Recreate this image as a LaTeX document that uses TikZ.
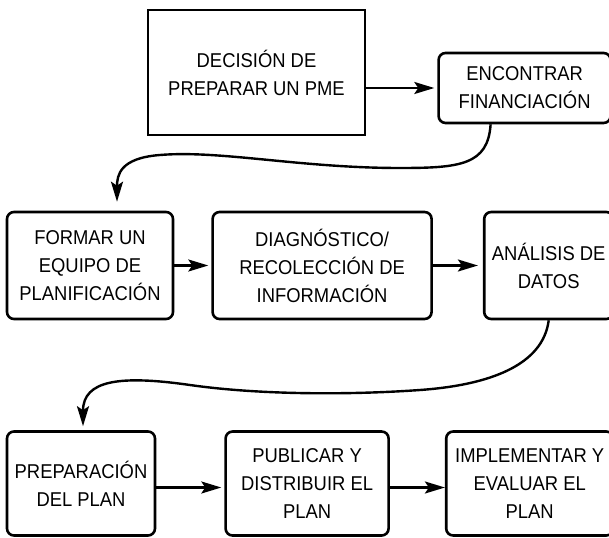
\documentclass[tikz,border=0pt]{standalone}
\usepackage{fontspec}
\setmainfont[FakeStretch=0.92]{Liberation Sans}
\usetikzlibrary{arrows.meta,positioning}

\begin{document}
\begin{tikzpicture}[x=1pt,y=-1pt,align=center,font=\fontsize{20}{28}\selectfont]
\tikzstyle{paso}=[draw=black,line width=2.6pt,rounded corners=7pt,inner sep=0pt,minimum height=107pt]
\tikzstyle{flecha}=[line width=2.4pt,shorten >=3pt,-{Stealth[length=20pt,width=12pt,inset=4pt]}]

\useasboundingbox (0,0) rectangle (609,537);

\node[paso,sharp corners,minimum width=217pt,minimum height=125pt] (p0) at (256.5,72.5) {DECISIÓN DE\\PREPARAR UN PME};
\node[paso,minimum width=172pt,minimum height=70pt] (p1) [right=71pt of p0,yshift=-15.5pt] {ENCONTRAR\\FINANCIACIÓN};

\node[paso,minimum width=166pt] (p2) at (90,265.5) {FORMAR UN\\EQUIPO DE\\PLANIFICACIÓN};
\node[paso,minimum width=219pt] (p3) [right=37pt of p2] {DIAGNÓSTICO/\\RECOLECCIÓN DE\\INFORMACIÓN};
\node[paso,minimum width=129pt] (p4) [right=50pt of p3] {ANÁLISIS DE\\DATOS};

\node[paso,minimum width=148pt,minimum height=104pt] (p5) at (81,483.5) {PREPARACIÓN\\DEL PLAN};
\node[paso,minimum width=163pt,minimum height=104pt] (p6) [right=68pt of p5] {PUBLICAR Y\\DISTRIBUIR EL\\PLAN};
\node[paso,minimum width=167pt,minimum height=104pt] (p7) [right=55pt of p6] {IMPLEMENTAR Y\\EVALUAR EL\\PLAN};

\path
  (p0.east |- p1.west) edge [flecha] (p1.west)
  (p2) edge [flecha] (p3)
  (p3) edge [flecha,shorten >=5pt] (p4)
  ([yshift=-4pt]p5.east) edge [flecha] ([yshift=-4pt]p6.west)
  ([yshift=-4pt]p6.east) edge [flecha,shorten >=0pt] ([yshift=-4pt]p7.west);

% curvas entre filas
\draw[flecha,shorten >=9pt] ([xshift=-34pt]p1.south) .. controls (488,165) and (460,168) .. (400,168)
  .. controls (300,168) and (220,150) .. (160,155) .. controls (120,158) and (117,175) .. ([xshift=27pt]p2.north);
\draw[flecha,shorten >=4pt] (p4.south) .. controls (543,365) and (490,385) .. (420,390)
  .. controls (350,395) and (260,395) .. (190,385) .. controls (120,375) and (83,380) .. ([xshift=2pt]p5.north);
\end{tikzpicture}
\end{document}
